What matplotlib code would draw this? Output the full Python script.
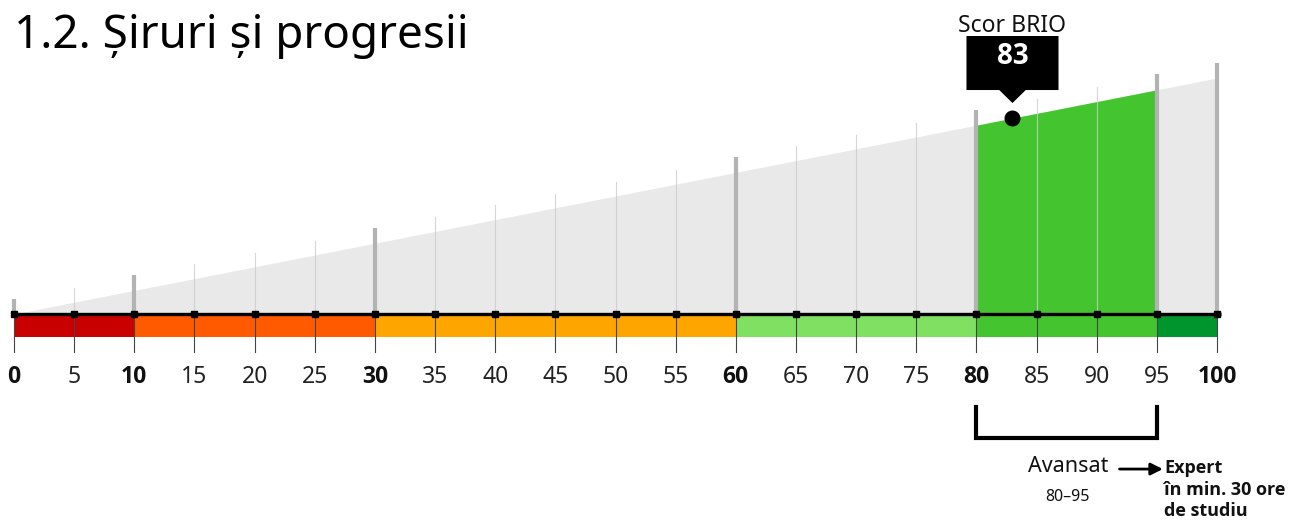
import numpy as np
import matplotlib
matplotlib.use("Agg")
import matplotlib.pyplot as plt
from matplotlib.patches import Polygon, Rectangle

plt.rcParams['font.family'] = ['Noto Sans', 'DejaVu Sans']
BOLD = ['Open Sans', 'DejaVu Sans']

# date
title = "1.2. Șiruri și progresii"
scale_ticks = list(range(0, 101, 5))
bold_ticks = [0, 10, 30, 60, 80, 100]
major_lines = [0, 10, 30, 60, 80, 95, 100]
band_edges = [0, 10, 30, 60, 80, 95, 100]
band_colors = ['#c80000', '#ff5a00', '#ffa500', '#80e062', '#44c52f', '#00962e']
score = 83
score_label = "Scor BRIO"
level_range = (80, 95)
level_name = "Avansat"
level_text = "80–95"
next_level = "Expert\nîn min. 30 ore\nde studiu"

W, H = 1294, 523
fig = plt.figure(figsize=(W / 100, H / 100), dpi=100)
ax = fig.add_axes([0, 0, 1, 1])
ax.axis('off')
# 1 unitate pe x = 12.03 px, 1 unitate pe y = 2.36 px, axa la y=314 px
ax.set_xlim(-14 / 12.03, (W - 14) / 12.03)
ax.set_ylim((314 - H) / 2.36, 314 / 2.36)

# pana gri
xs = np.array([0, 100])
ax.fill_between(xs, 0, xs, color='#e9e9e9', lw=0, zorder=1)
# zona nivelului curent
lx = np.array(level_range)
ax.fill_between(lx, 0, lx, color='#44c52f', lw=0, zorder=2)

# linii verticale
for t in scale_ticks:
    if t in major_lines:
        ax.plot([t, t], [0, t + 6.5], color='#b3b3b3', lw=3, solid_capstyle='butt', zorder=3)
    else:
        ax.plot([t, t], [0, t + 6], color='#cccccc', lw=0.8, alpha=0.8, zorder=3)
    ax.plot([t, t], [0, -16.1], color='#444444', lw=0.8, zorder=3)

# benzi colorate
for i in range(len(band_colors)):
    ax.add_patch(Rectangle((band_edges[i], -9.75), band_edges[i + 1] - band_edges[i], 8.9,
                           color=band_colors[i], lw=0, zorder=2))

# axa
ax.plot([0, 100.3], [0, 0], color='black', lw=2.4, zorder=4, solid_capstyle='butt')
ax.plot(scale_ticks, [0] * len(scale_ticks), ls='none', marker='s', ms=5, color='black', zorder=5)

for t in scale_ticks:
    if t in bold_ticks:
        ax.text(t, -29.2, str(t), ha='center', va='baseline', fontsize=16.5,
                fontweight='bold', family=BOLD, color='#111111')
    else:
        ax.text(t, -29.2, str(t), ha='center', va='baseline', fontsize=16.5, color='#222222')

# scor
ax.plot(score, score, 'o', color='black', ms=10.5, zorder=6)
bw = 7.65
ax.add_patch(Polygon([(score - bw / 2, 117.8), (score + bw / 2, 117.8), (score + bw / 2, 94.9),
                      (score + 1.1, 94.9), (score, 89.4), (score - 1.1, 94.9),
                      (score - bw / 2, 94.9)], closed=True, color='black', lw=0, zorder=6))
ax.text(score, 105.9, str(score), ha='center', va='baseline', fontsize=20,
        fontweight='bold', family=BOLD, color='white', zorder=7)
ax.text(score, 119.5, score_label, ha='center', va='baseline', fontsize=16.5, color='#111111')

# paranteza nivel
ax.plot([level_range[0], level_range[0], level_range[1], level_range[1]],
        [-39.4, -52.5, -52.5, -39.4], color='black', lw=3, solid_joinstyle='miter', zorder=4)
ax.text(87.6, -66.9, level_name, ha='center', va='baseline', fontsize=15.5, color='#111111')
ax.text(87.6, -79.2, level_text, ha='center', va='baseline', fontsize=11.5, color='#111111')
ax.annotate('', xy=(95.5, -65.7), xytext=(91.9, -65.7),
            arrowprops=dict(arrowstyle='-|>', color='black', lw=2, mutation_scale=18,
                            shrinkA=0, shrinkB=0))
ax.text(95.6, -61.5, next_level, ha='left', va='top', fontsize=13, fontweight='bold',
        family=BOLD, color='#111111', linespacing=1.25)

fig.text(14 / W, 1 - 48 / H, title, ha='left', va='baseline', fontsize=33, color='black')

fig.savefig('out.png', dpi=100)
